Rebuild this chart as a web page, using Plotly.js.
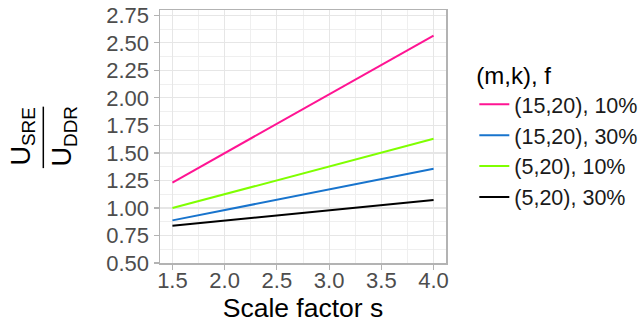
<!DOCTYPE html>
<html>
<head>
<meta charset="utf-8">
<script src="https://cdn.plot.ly/plotly-3.0.1.min.js"></script>
<style>html,body{margin:0;padding:0;background:#fff;}#chart{width:641px;height:323px;}</style>
</head>
<body>
<div id="chart"></div>
<script>
// Data
const scaleFactor = [1.5, 4.0];
const seriesNames = ["(15,20), 10%", "(15,20), 30%", "(5,20), 10%", "(5,20), 30%"];
const s15_20_10 = [1.231, 2.565];
const s15_20_30 = [0.887, 1.356];
const s5_20_10 = [0.999, 1.628];
const s5_20_30 = [0.838, 1.072];
const seriesColors = ["#ff1493", "#1874cd", "#7fff00", "#000000"];
const xTicks = [1.5, 2.0, 2.5, 3.0, 3.5, 4.0];
const xTickLabels = ["1.5", "2.0", "2.5", "3.0", "3.5", "4.0"];
const yTicks = [0.5, 0.75, 1.0, 1.25, 1.5, 1.75, 2.0, 2.25, 2.5, 2.75];
const yTickLabels = ["0.50", "0.75", "1.00", "1.25", "1.50", "1.75", "2.00", "2.25", "2.50", "2.75"];

const FONT = "Liberation Sans, Arial, Helvetica, sans-serif";
const allY = [s15_20_10, s15_20_30, s5_20_10, s5_20_30];

const traces = allY.map((ys, i) => ({
  x: scaleFactor,
  y: ys,
  type: "scatter",
  mode: "lines",
  name: seriesNames[i],
  legendgroup: "g" + i,
  line: {color: seriesColors[i], width: 2}
}));

const gridMajor = "#e6e6e6";
const gridMinor = "#efefef";

const layout = {
  width: 641,
  height: 323,
  margin: {l: 160, r: 195, t: 10, b: 60, pad: 0, autoexpand: false},
  paper_bgcolor: "#ffffff",
  plot_bgcolor: "#ffffff",
  font: {family: FONT, color: "#4d4d4d"},
  showlegend: true,
  legend: {
    x: 1.099, xanchor: "left",
    y: 0.832, yanchor: "top",
    title: {text: "(m,k), f", font: {family: FONT, size: 24, color: "#000000"}},
    font: {family: FONT, size: 21.5, color: "#1a1a1a"},
    tracegroupgap: 0,
    itemwidth: 30,
    bgcolor: "rgba(0,0,0,0)"
  },
  xaxis: {
    range: [1.381, 4.119],
    tickmode: "array",
    tickvals: xTicks,
    ticktext: xTickLabels,
    ticks: "outside",
    ticklen: 5,
    tickcolor: "#b3b3b3",
    tickwidth: 1.2,
    ticklabelstandoff: -8,
    tickfont: {family: FONT, size: 22, color: "#4d4d4d"},
    showgrid: true,
    gridcolor: gridMajor,
    gridwidth: 1.2,
    minor: {dtick: 0.25, tick0: 1.5, showgrid: true, gridcolor: gridMinor, gridwidth: 1, ticks: ""},
    zeroline: false,
    showline: true,
    mirror: true,
    linecolor: "#b3b3b3",
    linewidth: 1.5,
    automargin: false,
    title: {text: "Scale factor s", font: {family: FONT, size: 26.5, color: "#000000"}}
  },
  yaxis: {
    range: [0.5, 2.798],
    tickmode: "array",
    tickvals: yTicks,
    ticktext: yTickLabels,
    ticks: "outside",
    ticklen: 5,
    tickcolor: "#b3b3b3",
    tickwidth: 1.2,
    tickfont: {family: FONT, size: 22, color: "#4d4d4d"},
    showgrid: true,
    gridcolor: gridMajor,
    gridwidth: 1.2,
    minor: {dtick: 0.125, tick0: 0.5, showgrid: true, gridcolor: gridMinor, gridwidth: 1, ticks: ""},
    zeroline: false,
    showline: true,
    mirror: true,
    linecolor: "#b3b3b3",
    linewidth: 1.5,
    automargin: false
  },
  annotations: [
    {text: "U<sub>SRE</sub>", xref: "paper", yref: "paper", x: -0.4825, y: 0.50,
     xanchor: "center", yanchor: "middle", textangle: -90, showarrow: false,
     font: {family: FONT, size: 27, color: "#000000"}},
    {text: "U<sub>DDR</sub>", xref: "paper", yref: "paper", x: -0.3357, y: 0.50,
     xanchor: "center", yanchor: "middle", textangle: -90, showarrow: false,
     font: {family: FONT, size: 27, color: "#000000"}}
  ],
  shapes: [
    {type: "line", xref: "paper", yref: "paper", x0: -0.408, x1: -0.408, y0: 0.375, y1: 0.618,
     line: {color: "#000000", width: 1.5}}
  ]
};

Plotly.newPlot("chart", traces, layout, {displayModeBar: false, staticPlot: true});
</script>
</body>
</html>
